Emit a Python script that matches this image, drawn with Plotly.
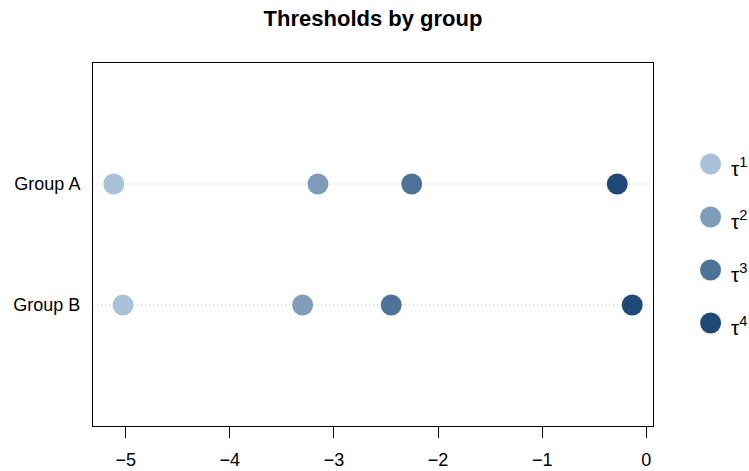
import plotly.graph_objects as go

# Threshold estimates (tau^1 .. tau^4) for each group
groups = ["Group B", "Group A"]          # bottom-to-top order, y = 1, 2
group_pos = [1, 2]
thresholds = {
    "Group A": [-5.115, -3.154, -2.253, -0.279],
    "Group B": [-5.026, -3.301, -2.450, -0.135],
}
tau_labels = ["τ<sup>1</sup>", "τ<sup>2</sup>", "τ<sup>3</sup>", "τ<sup>4</sup>"]
tau_colors = ["#a9c2d8", "#7f9db8", "#4e7399", "#1f4a78"]
x_ticks = [-5, -4, -3, -2, -1, 0]

FONT = "Liberation Sans, Arial, sans-serif"

fig = go.Figure()

# x range: data range padded by 4% on each side
all_vals = [v for vals in thresholds.values() for v in vals]
lo, hi = min(all_vals), max(all_vals)
pad = 0.04 * (hi - lo)
x_range = [lo - pad, hi + pad]

# dotted guide line for each group
for g, yv in zip(groups, group_pos):
    fig.add_shape(type="line", xref="x domain", yref="y", x0=0, x1=1, y0=yv, y1=yv,
                  line=dict(color="#c4c4c4", width=1, dash="1px,3px"), layer="below")

# one trace per threshold
for k in range(4):
    xs = [thresholds[g][k] for g in groups]
    fig.add_trace(go.Scatter(
        x=xs, y=group_pos, mode="markers", showlegend=False,
        marker=dict(size=21, color=tau_colors[k], line=dict(width=0)),
        xaxis="x", yaxis="y",
    ))

# legend drawn on an auxiliary axis in the right margin
legend_idx = list(range(4))
fig.add_trace(go.Scatter(
    x=[0.6] * 4, y=legend_idx, mode="markers", showlegend=False,
    marker=dict(size=21, color=tau_colors, line=dict(width=0)),
    xaxis="x2", yaxis="y2", hoverinfo="skip",
))
for i, lab in zip(legend_idx, tau_labels):
    fig.add_annotation(x=0.79, y=i + 0.05, xref="x2", yref="y2", text=lab, showarrow=False,
                       xanchor="left", yanchor="middle",
                       font=dict(family=FONT, size=21, color="black"))

W, H = 749, 471
left, right_edge, top, bottom_edge = 93, 653, 63, 426
main_frac = (right_edge - left) / (W - left)

fig.update_layout(
    width=W, height=H,
    margin=dict(l=left, r=0, t=top, b=H - bottom_edge),
    paper_bgcolor="white", plot_bgcolor="white",
    font=dict(family=FONT, size=18, color="black"),
    title=dict(text="<b>Thresholds by group</b>", xref="container", yref="container",
               x=(left + right_edge) / 2 / W, y=1 - 18 / H,
               xanchor="center", yanchor="middle",
               font=dict(family=FONT, size=22, color="black")),
    xaxis=dict(domain=[0, main_frac], range=x_range, tickvals=x_ticks,
               ticktext=[("−" + str(-t)) if t < 0 else str(t) for t in x_ticks],
               showline=True, mirror=True, linecolor="black", linewidth=1,
               ticks="outside", ticklen=11, tickwidth=1, tickcolor="black",
               showgrid=False, zeroline=False, ticklabelstandoff=6),
    yaxis=dict(range=[0, 3], tickvals=group_pos, ticktext=groups,
               showline=True, mirror=True, linecolor="black", linewidth=1,
               ticks="", showgrid=False, zeroline=False, ticklabelstandoff=8),
    xaxis2=dict(domain=[main_frac, 1], range=[0, 1], visible=False, anchor="y2"),
    yaxis2=dict(domain=[0, 1], range=[4.943, -1.906], visible=False, anchor="x2"),
)

fig.write_html("out.html")
